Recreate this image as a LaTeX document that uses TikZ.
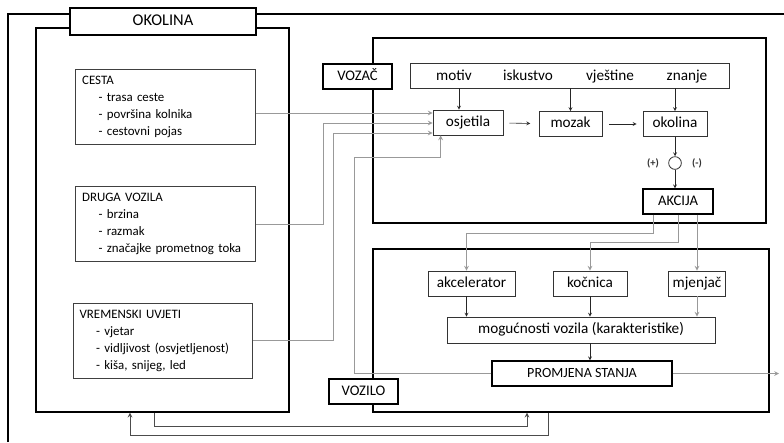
\documentclass[tikz,border=0pt]{standalone}
\usepackage{fontspec}
\setmainfont{Carlito}
\usetikzlibrary{arrows}
\tikzstyle{frame} = [rectangle, draw=black, line width=1.2pt]
\tikzstyle{title} = [rectangle, draw=black, fill=white, line width=1.1pt, text centered, minimum height=0.75cm, text height=9pt, text depth=2.5pt, font=\fontsize{12.5}{14}\selectfont]
\tikzstyle{group} = [rectangle, draw=black!75, line width=0.8pt, align=left, text width=5cm, inner xsep=0.19cm, minimum height=2.25cm, font=\fontsize{11}{14.5}\selectfont]
\tikzstyle{process} = [rectangle, draw=black!80, line width=0.7pt, text centered, minimum height=0.75cm, text height=9.5pt, text depth=3pt, font=\fontsize{13}{15}\selectfont]
\tikzstyle{factor} = [anchor=base, font=\fontsize{13}{15}\selectfont]
\tikzstyle{znak} = [font=\fontsize{9}{10}\selectfont\bfseries, text=black!80]
\tikzstyle{arrow} = [->, >=stealth, draw=black!85, line width=0.5pt]
\tikzstyle{feed} = [->, >=stealth, draw=black!40, line width=0.8pt]
\newcommand{\stavka}{\hspace*{14pt}- }
\begin{document}
\begin{tikzpicture}[x=0.03cm, y=-0.03cm]
\useasboundingbox (0,0) rectangle (784,442);
% okolina
\draw [line width=1.2pt] (8,442) -- (8,14) -- (784,14);
\node (env) [frame, minimum width=7.59cm, minimum height=11.52cm] at (162.5,220) {};
\node (naslov) [title, minimum width=5.58cm, minimum height=0.81cm, font=\fontsize{14}{16}\selectfont] at (163,21.5) {OKOLINA};
\node (cesta) [group] at (165.5,107) {CESTA\\\stavka trasa ceste\\\stavka površina kolnika\\\stavka cestovni pojas};
\node (druga) [group] at (165.5,224) {DRUGA VOZILA\\\stavka brzina\\\stavka razmak\\\stavka značajke prometnog toka};
\node (vrijeme) [group] at (163,340.5) {VREMENSKI UVJETI\\\stavka vjetar\\\stavka vidljivost (osvjetljenost)\\\stavka kiša, snijeg, led};

% vozac
\node (vozac) [frame, minimum width=11.79cm, minimum height=5.55cm] at (569.5,130.5) {};
\node (vozaclabel) [title, minimum width=2.07cm] at (357.5,76.5) {VOZAČ};
\node (faktori) [process, minimum width=9.57cm] at (569.5,75.5) {};
\node (motiv) [factor] at (454,80.5) {motiv};
\node (iskustvo) [factor] at (528,80.5) {iskustvo};
\node (vjestine) [factor] at (610,80.5) {vještine};
\node (znanje) [factor] at (687,80.5) {znanje};
\node (osjetila) [process, minimum width=2.1cm] at (468,122.5) {osjetila};
\node (mozak) [process, minimum width=1.89cm] at (570.5,124) {mozak};
\node (okolina) [process, minimum width=1.92cm] at (675,124) {okolina};
\node (zbroj) [circle, draw=black!80, line width=0.7pt, minimum size=0.38cm] at (675,163) {};
\node (plus) [znak] at (653,163) {(+)};
\node (minus) [znak] at (697,163) {(-)};
\node (akcija) [title, minimum width=2.1cm] at (678,201.5) {AKCIJA};
\coordinate (uosjetila) at ([xshift=-0.27cm]osjetila.north);

% vozilo
\node (vozilo) [frame, minimum width=11.88cm, minimum height=4.89cm] at (571,330.5) {};
\node (vozilolabel) [title, minimum width=2.07cm] at (363.5,391.5) {VOZILO};
\node (akcelerator) [process, minimum width=2.61cm] at (471.5,283.5) {akcelerator};
\node (kocnica) [process, minimum width=2.22cm] at (590,283.5) {kočnica};
\node (mjenjac) [process, minimum width=1.62cm] at (697,283.5) {mjenjač};
\node (mogucnosti) [process, minimum width=8.04cm, minimum height=0.78cm] at (581,330) {mogućnosti vozila (karakteristike)};
\node (promjena) [title, minimum width=5.4cm, font=\fontsize{12}{14}\selectfont] at (582,373.5) {PROMJENA STANJA};
\coordinate (uakc) at ([xshift=-0.15cm]akcelerator.north);
\coordinate (iakc) at ([xshift=-0.15cm]akcelerator.south);
\coordinate (izlaz) at (779,373.5);

% ulazi u osjetila
\draw [feed] (cesta.east |- 0,113) -- (osjetila.west |- 0,113);
\draw [feed] (druga.east) -| (323,123) -- (osjetila.west |- 0,123);
\draw [feed] (vrijeme.east) -| (333,133) -- (osjetila.west |- 0,133);
\draw [feed] (promjena.west) -| (354,157) -| ([xshift=0.24cm]osjetila.south west);

\draw [arrow] (faktori.south -| uosjetila) -- (uosjetila);
\draw [arrow] (faktori.south -| mozak.north) -- (mozak.north);
\draw [arrow] (faktori.south -| okolina.north) -- (okolina.north);
\draw [arrow, shorten <=0.18cm, shorten >=0.25cm] (osjetila) -- (mozak);
\draw [arrow, shorten <=0.2cm, shorten >=0.18cm] (mozak) -- (okolina);
\draw [arrow] (okolina.south) -- (zbroj.north);
\draw [arrow] (zbroj.south) -- (zbroj.south |- akcija.north);

% akcija
\draw [feed] ([xshift=-0.75cm]akcija.south) -- ++(0,19) -| (uakc);
\draw [feed] (akcija.south) -- ++(0,28) -| (kocnica.north);
\draw [feed] (mjenjac.north |- akcija.south) -- (mjenjac.north);
\draw [arrow] (iakc) -- (iakc |- mogucnosti.north);
\draw [arrow] (kocnica.south) -- (kocnica.south |- mogucnosti.north);
\draw [feed] (mjenjac.south) -- (mjenjac.south |- mogucnosti.north);
\draw [arrow] (kocnica |- mogucnosti.south) -- (kocnica |- promjena.north);
\draw [feed] (promjena.east) -- (izlaz);

% povratne veze
\draw [arrow, draw=black!70, line width=0.8pt] ([xshift=-0.255cm]env.south) -- ++(0,14) -| ([xshift=-1.32cm]vozilo.south);
\draw [arrow, draw=black!70, line width=0.8pt] ([xshift=-0.69cm]vozilo.south) -- ++(0,23) -| ([xshift=-0.975cm]env.south);
\end{tikzpicture}
\end{document}
